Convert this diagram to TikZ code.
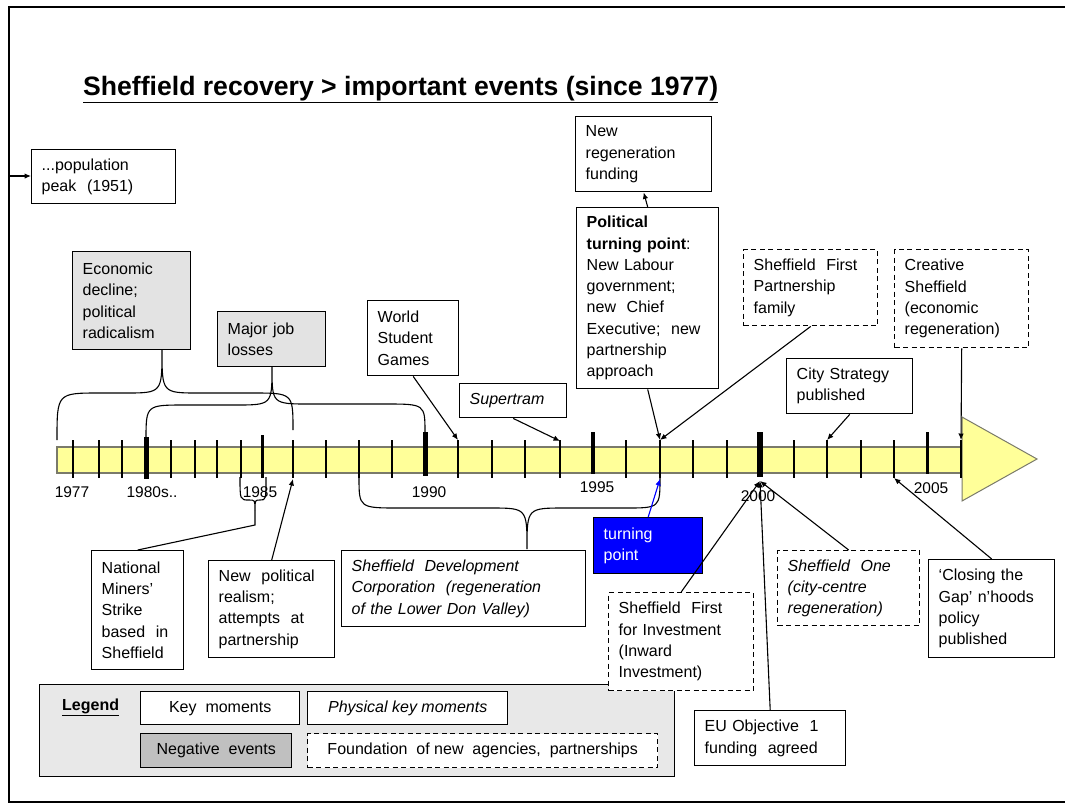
\documentclass[tikz,border=0pt]{standalone}
\usepackage{fontspec}
\setmainfont{Liberation Sans}
\usetikzlibrary{arrows.meta,calc}
\definecolor{baryel}{HTML}{FFFF99}
\definecolor{barline}{HTML}{7A7A6A}
\definecolor{negfill}{HTML}{E3E3E3}
\definecolor{leggray}{HTML}{E8E8E8}
\definecolor{darkneg}{HTML}{C0C0C0}
\definecolor{tpblue}{HTML}{0000FF}
\newcommand\bxfont{\fontsize{16}{21.3}\selectfont}
\newcommand\yrfont{\fontsize{15.5}{18}\selectfont}
\tikzset{
  ev/.style={draw=black, line width=1.4pt, fill=white, align=left, inner xsep=10pt,
    inner ysep=0pt, anchor=north west, font=\bxfont},
  neg/.style={ev, fill=negfill},
  agency/.style={ev, dash pattern=on 5pt off 3.5pt},
  lg/.style={draw=black, line width=1.4pt, fill=white, align=center, inner sep=0pt,
    anchor=north west, font=\bxfont},
  conn/.style={line width=1.1pt, -{Latex[length=6.5pt,width=5.5pt]}},
  bracecurve/.style={line width=1.1pt},
  tickmark/.style={line width=1.3pt},
  yr/.style={font=\yrfont, inner sep=0pt},
}
\begin{document}
\begin{tikzpicture}[x=1pt,y=-1pt]
\useasboundingbox (0,0) rectangle (1065,807);
% frame
\draw[line width=1.8pt] (1065,7) -- (9,7) -- (9,802) -- (1065,802);

% title
\node[anchor=base west, inner sep=0pt, font=\fontsize{26.6}{30}\selectfont\bfseries] (title) at (83,95)
  {\underline{Sheffield recovery > important events (since 1977)}};

% timeline bar
\draw[draw=barline, line width=2.2pt, fill=baryel] (57,447) rectangle (962,473);
\foreach \x in {73,99,122,171,195,217,241,293,326,359,392,458,492,525,560,626,660,693,727,794,827,861,894}
  \draw[tickmark] (\x,440) -- (\x,478);
\draw[line width=5pt] (146,437) -- (146,479);
\draw[line width=3pt] (262,435) -- (262,478);
\draw[line width=5pt] (425,432) -- (425,476);
\draw[line width=3.2pt] (593,432) -- (593,474);
\draw[line width=6pt] (760,432) -- (760,477);
\draw[line width=3pt] (927,432) -- (927,474);
\draw[draw=barline, line width=1pt, fill=baryel] (962,417) -- (1037,459) -- (962,501) -- cycle;
\draw[tickmark] (961,440) -- (961,478);

% year labels
\node[yr] (y1977) at (72,492) {1977};
\node[yr] (y1980) at (152,492) {1980s..};
\node[yr] (y1985) at (260,492) {1985};
\node[yr] (y1990) at (429,492) {1990};
\node[yr] (y1995) at (597,487) {1995};
\node[yr] (y2000) at (758,496) {2000};
\node[yr] (y2005) at (931,488) {2005};

% timeline anchor coordinates
\coordinate (popsrc) at (9,176);
\coordinate (t1986b) at (293,479);
\coordinate (t1991t) at (458,440);
\coordinate (t1994t) at (560,441);
\coordinate (t1997t) at (660,440);
\coordinate (t1997b) at (660,479);
\coordinate (t2000b) at (760,481);
\coordinate (t2002t) at (827,440);
\coordinate (t2004b) at (894,478);
\coordinate (t2006t) at (961,440);

% legend
\node[draw=black, line width=1.4pt, fill=leggray, minimum width=635pt, minimum height=92pt,
  inner sep=0pt, anchor=north west] (legend) at (39,684) {};
\node[anchor=west, inner sep=0pt, font=\bxfont\bfseries] (legtitle) at (62,707) {\underline{Legend}};
\node[lg, minimum width=159pt, minimum height=33pt] (lkey) at (140,691) {Key\ \ moments};
\node[lg, minimum width=200pt, minimum height=33pt, font=\bxfont\itshape] (lphys) at (307,691) {Physical key moments};
\node[lg, minimum width=151pt, minimum height=34pt, fill=darkneg] (lneg) at (140,733) {Negative\ \ events};
\node[lg, minimum width=350pt, minimum height=34pt, dash pattern=on 5pt off 3.5pt] (lfound) at (307,733)
  {Foundation\ \ of new\ \ agencies,\ \ partnerships};

% event boxes
\node[ev, text width=124pt, minimum height=54pt] (pop) at (31,149) {...population\\peak\ \ (1951)};
\node[neg, text width=98pt, minimum height=98pt] (econ) at (72,251) {Economic\\decline;\\political\\radicalism};
\node[neg, text width=88pt, minimum height=55pt] (major) at (217,311) {Major job\\losses};
\node[ev, text width=71pt, minimum height=75pt] (wsg) at (367,300) {World\\Student\\Games};
\node[ev, text width=87pt, minimum height=34pt, font=\bxfont\itshape] (tram) at (459,383) {Supertram};
\node[ev, text width=116pt, minimum height=75pt] (newreg) at (575,116) {New\\regeneration\\funding};
\node[ev, text width=122pt, minimum height=181pt] (pol) at (576,207)
  {\textbf{Political}\\\textbf{turning point}:\\New Labour\\government;\\new\ \ Chief\\Executive;\ \ new\\partnership\\approach};
\node[agency, text width=114pt, minimum height=76pt] (sfp) at (743,249) {Sheffield\ \ First\\Partnership\\family};
\node[agency, text width=114pt, minimum height=98pt] (creative) at (894,249) {Creative\\Sheffield\\(economic\\regeneration)};
\node[ev, text width=106pt, minimum height=55pt] (city) at (786,358) {City Strategy\\published};
\node[ev, text width=72pt, minimum height=119pt] (miners) at (91,550) {National\\Miners'\\Strike\\based\ \ in\\Sheffield};
\node[ev, text width=106pt, minimum height=97pt] (npr) at (208,560) {New\ \ political\\realism;\\attempts\ \ at\\partnership};
\node[ev, text width=224pt, minimum height=76pt, font=\bxfont\itshape] (sdc) at (341,550)
  {Sheffield\ \ Development\\Corporation\ \ (regeneration\\of the Lower Don Valley)};
\node[ev, text width=89pt, minimum height=56pt, fill=tpblue, text=white] (tp) at (593,517) {turning\\point};
\node[agency, text width=125pt, minimum height=98pt] (sfi) at (608,592) {Sheffield\ \ First\\for Investment\\(Inward\\Investment)};
\node[ev, text width=131pt, minimum height=55pt] (eu) at (694,710) {EU Objective\ \ 1\\funding\ \ agreed};
\node[agency, text width=122pt, minimum height=75pt, font=\bxfont\itshape] (sone) at (777,550) {Sheffield\ \ One\\(city-centre\\regeneration)};
\node[ev, text width=106pt, minimum height=98pt] (ctg) at (928,559) {‘Closing the\\Gap’ n’hoods\\policy\\published};

% braces
\coordinate (econtip) at (162,350);
\coordinate (majortip) at (272,367);
\coordinate (sdctip) at (527,549);
\coordinate (minetip) at (255,510);
\coordinate (minebend) at (255,525);
\draw[bracecurve] (57,440) .. controls (57,393) .. (100,393) -- (125,393)
  .. controls (162,393) .. (econtip) .. controls (162,393) .. (199,393) -- (252,393)
  .. controls (293,393) .. (293,430);
\draw[bracecurve] (146,440) .. controls (146,405) .. (185,405) -- (235,405)
  .. controls (272,405) .. (majortip) .. controls (272,404) .. (310,404) -- (385,404)
  .. controls (425,404) .. (425,433);
\draw[bracecurve] (359,477) .. controls (359,508) .. (400,508) -- (490,508)
  .. controls (527,508) .. (sdctip) .. controls (527,508) .. (565,508) -- (625,508)
  .. controls (660,508) .. (660,477);
\draw[bracecurve] (240,477) .. controls (240,500) .. (249,500)
  .. controls (255,500) .. (minetip) .. controls (255,500) .. (260,500)
  .. controls (266,500) .. (266,477);

% connectors
\draw[conn] (popsrc) -- (pop.west |- popsrc);
\draw[conn] (wsg.south) -- (t1991t);
\draw[conn] (tram.south) -- (t1994t);
\draw[conn] (pol.north) -- (newreg.south);
\draw[conn] (pol.south) -- (t1997t);
\draw[conn] (sfp.south) -- (t1997t);
\draw[conn] (city.south) -- (t2002t);
\draw[conn] (creative.south) -- (t2006t);
\draw[bracecurve] (miners.north) -- (minebend) -- (minetip);
\draw[conn] (npr.north) -- (t1986b);
\draw[conn, draw=tpblue, fill=tpblue] (tp.north) -- (t1997b);
\draw[conn] (sfi.north) -- (t2000b);
\draw[conn] (eu.north) -- (t2000b);
\draw[conn] (sone.north) -- (t2000b);
\draw[conn] (ctg.north) -- (t2004b);
\end{tikzpicture}
\end{document}
